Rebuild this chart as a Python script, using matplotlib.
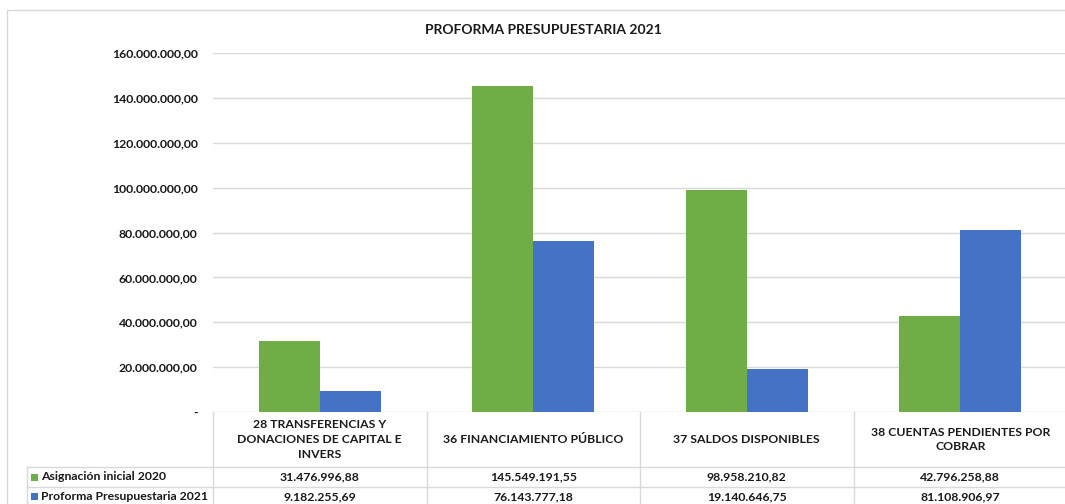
import matplotlib
matplotlib.use("Agg")
import matplotlib.pyplot as plt
import matplotlib.transforms as mtransforms
from matplotlib.patches import Rectangle
from matplotlib.lines import Line2D
import numpy as np

plt.rcParams['font.family'] = ['Lato', 'DejaVu Sans']
plt.rcParams['font.weight'] = 'bold'

# ---- data ----
title = "PROFORMA PRESUPUESTARIA 2021"
categories = ["28 TRANSFERENCIAS Y\nDONACIONES DE CAPITAL E\nINVERS",
              "36 FINANCIAMIENTO PÚBLICO",
              "37 SALDOS DISPONIBLES",
              "38 CUENTAS PENDIENTES POR\nCOBRAR"]
series_names = ["Asignación inicial 2020", "Proforma Presupuestaria 2021"]
asignacion_2020 = [31476996.88, 145549191.55, 98958210.82, 42796258.88]
proforma_2021 = [9182255.69, 76143777.18, 19140646.75, 81108906.97]
y_ticks = [0, 20e6, 40e6, 60e6, 80e6, 100e6, 120e6, 140e6, 160e6]
colors = ["#70AD47", "#4472C4"]

TXT = "#1a1a1a"
GRID = "#D9D9D9"
W, H = 1065, 504
FS = 8.8


def fx(px):
    return px / W


def fy(py):
    return 1 - py / H


def es_fmt(v):
    s = f"{v:,.2f}"
    return s.replace(",", "X").replace(".", ",").replace("X", ".")


fig = plt.figure(figsize=(W / 100, H / 100), dpi=100)

# chart border
fig.add_artist(Rectangle((fx(7), -0.2), 1.5, fy(10) + 0.2, transform=fig.transFigure,
                         facecolor="none", edgecolor=GRID, lw=1.0))

fig.text(fx(543), fy(30), title, ha="center", va="center", fontsize=10,
         fontweight="bold", color=TXT)

ax = fig.add_axes([fx(213), fy(412), (1067 - 213) / W, (412 - 53.3) / H])
x = np.arange(len(categories))
w = 1 / 3.5
ax.bar(x - w / 2, asignacion_2020, w, color=colors[0], zorder=2)
ax.bar(x + w / 2, proforma_2021, w, color=colors[1], zorder=2)
ax.set_xlim(-0.5, len(categories) - 0.5)
ax.set_ylim(0, y_ticks[-1])
ax.set_yticks(y_ticks)
ax.set_yticklabels(["-" if t == 0 else es_fmt(t) for t in y_ticks],
                   fontsize=FS, fontweight="bold", color=TXT)
ax.tick_params(axis="y", length=0, pad=11)
ax.set_xticks([])
ax.yaxis.grid(True, color=GRID, lw=1.0, zorder=0)
ax.set_axisbelow(True)
for s in ax.spines.values():
    s.set_visible(False)
ax.patch.set_alpha(0)

# ---- data table ----
bt = mtransforms.blended_transform_factory(ax.transData, fig.transFigure)
row1_y, row2_y, bottom_y = 467, 487, 507
# horizontal lines
fig.add_artist(Line2D([fx(27), fx(1067)], [fy(row1_y)] * 2, color=GRID, lw=1.0,
                      transform=fig.transFigure))
fig.add_artist(Line2D([fx(27), fx(1067)], [fy(row2_y)] * 2, color=GRID, lw=1.0,
                      transform=fig.transFigure))
# vertical lines
fig.add_artist(Line2D([fx(27), fx(27)], [fy(row1_y), fy(bottom_y)], color=GRID, lw=1.0,
                      transform=fig.transFigure))
for b in np.arange(len(categories)) - 0.5:
    fig.add_artist(Line2D([b, b], [fy(412), fy(bottom_y)], color=GRID, lw=1.0,
                          transform=bt, clip_on=False))

for i, cat in enumerate(categories):
    fig.text(i, fy(439.5), cat, transform=bt, ha="center", va="center",
             fontsize=FS, fontweight="bold", color=TXT, linespacing=1.4)
    fig.text(i, fy(477), es_fmt(asignacion_2020[i]), transform=bt, ha="center",
             va="center", fontsize=FS, fontweight="bold", color=TXT)
    fig.text(i, fy(496.5), es_fmt(proforma_2021[i]), transform=bt, ha="center",
             va="center", fontsize=FS, fontweight="bold", color=TXT)

for j, (name, yc) in enumerate(zip(series_names, [477, 496.5])):
    fig.add_artist(Rectangle((fx(31), fy(yc + 3.5)), 7 / W, 7 / H,
                             transform=fig.transFigure, facecolor=colors[j],
                             edgecolor="none"))
    fig.text(fx(41), fy(yc), name, ha="left", va="center", fontsize=FS,
             fontweight="bold", color=TXT)

fig.savefig("out.png", dpi=100)
